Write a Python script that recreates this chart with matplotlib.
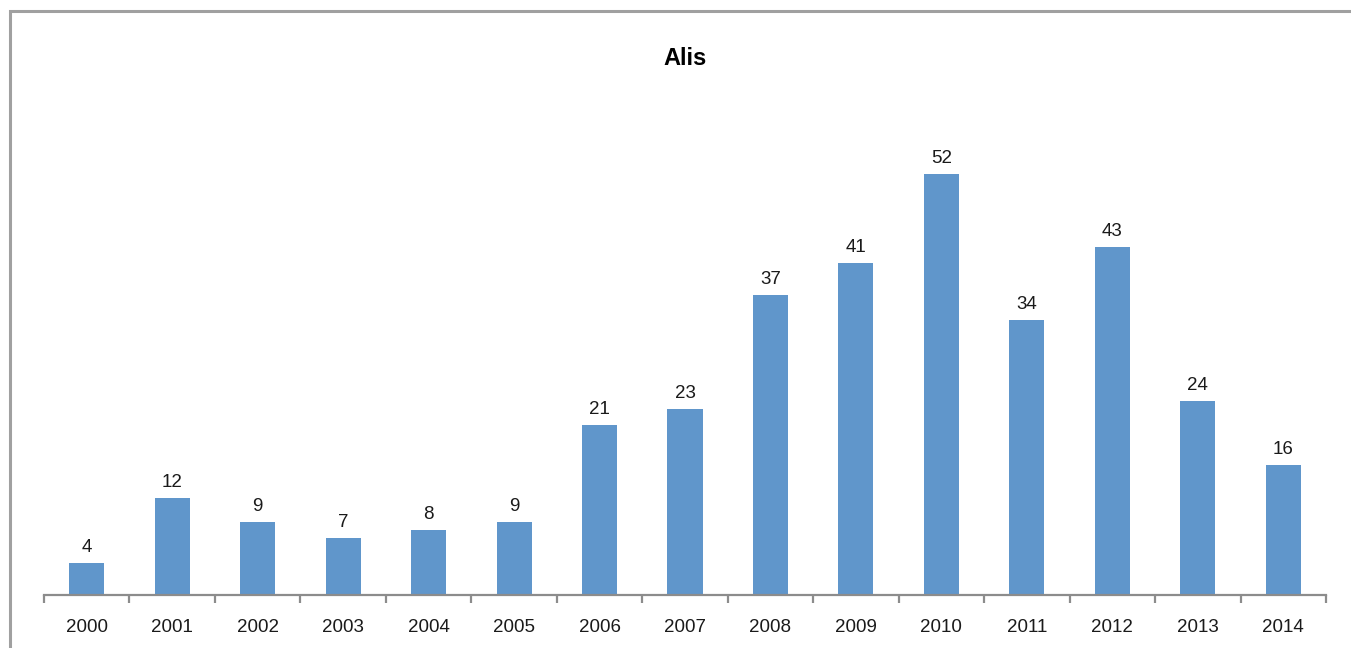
import matplotlib
matplotlib.use("Agg")
import matplotlib.pyplot as plt
from matplotlib.patches import Rectangle
import numpy as np

years = ["2000", "2001", "2002", "2003", "2004", "2005", "2006", "2007",
         "2008", "2009", "2010", "2011", "2012", "2013", "2014"]
counts = [4, 12, 9, 7, 8, 9, 21, 23, 37, 41, 52, 34, 43, 24, 16]

BAR_COLOR = "#6096cb"
AXIS_GRAY = "#8c8c8c"

plt.rcParams["font.family"] = ["Liberation Sans", "DejaVu Sans"]

fig = plt.figure(figsize=(13.51, 6.48), dpi=100)
W, H = 1351, 648

# chart area frame (only left and top edges fall inside the canvas)
fig.patches.append(Rectangle((10 / W, -0.1), 1.2, (H - 11) / H + 0.1,
                             transform=fig.transFigure, fill=False,
                             edgecolor="#a0a0a0", linewidth=2.2))

ax = fig.add_axes([44 / W, (H - 595) / H, (1326 - 44) / W, (595 - 109) / H])
x = np.arange(len(years))
bars = ax.bar(x, counts, width=0.41, color=BAR_COLOR, zorder=2)

ax.set_xlim(-0.5, len(years) - 0.5)
ax.set_ylim(0, 60)

for rect, v in zip(bars, counts):
    ax.annotate(str(v), (rect.get_x() + rect.get_width() / 2, v),
                xytext=(0, 5), textcoords="offset points",
                ha="center", va="bottom", fontsize=13.5, color="#1a1a1a")

for side in ("left", "right", "top"):
    ax.spines[side].set_visible(False)
ax.spines["bottom"].set_color(AXIS_GRAY)
ax.spines["bottom"].set_linewidth(1.6)
ax.set_yticks([])

# category labels centered, tick marks between categories
ax.set_xticks(x)
ax.set_xticklabels(years, fontsize=13.5, color="#1a1a1a")
ax.tick_params(axis="x", which="major", length=0, pad=17)
ax.set_xticks(np.arange(-0.5, len(years)), minor=True)
ax.tick_params(axis="x", which="minor", length=6, width=1.6, color=AXIS_GRAY)

ax.set_title("Alis", fontsize=17, fontweight="bold", pad=32)

fig.savefig("out.png", dpi=100)
